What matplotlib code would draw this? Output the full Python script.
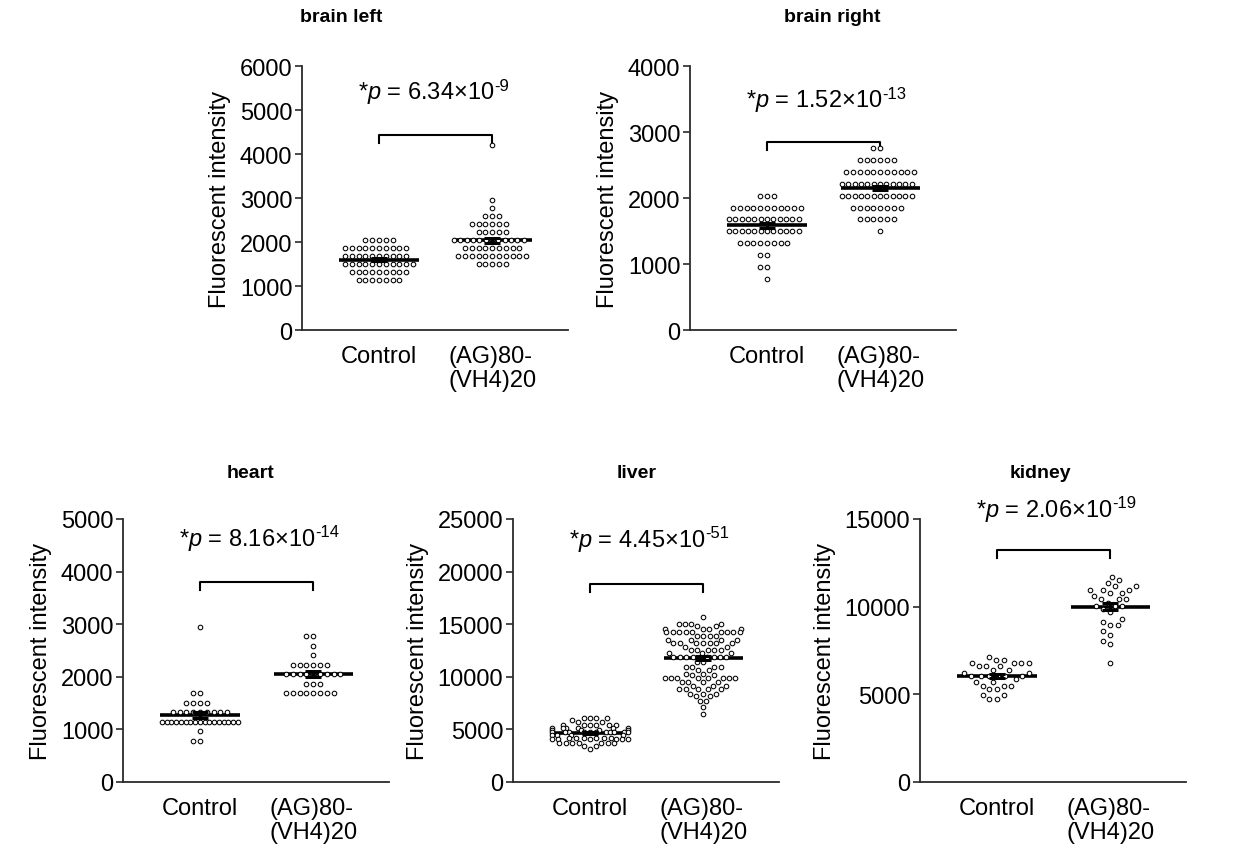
import numpy as np
import matplotlib
matplotlib.use("Agg")
import matplotlib.pyplot as plt
from matplotlib import transforms

plt.rcParams['font.family'] = ['Liberation Sans', 'DejaVu Sans']
plt.rcParams['mathtext.fontset'] = 'custom'
plt.rcParams['mathtext.rm'] = 'Liberation Sans'
plt.rcParams['mathtext.it'] = 'Liberation Sans:italic'
plt.rcParams['mathtext.bf'] = 'Liberation Sans:bold'

# ---------------- data ----------------
groups = ['Control', '(AG)80-\n(VH4)20']
titles = ['brain left', 'brain right', 'heart', 'liver', 'kidney']
ymax = [6000, 4000, 5000, 25000, 15000]
ystep = [1000, 1000, 1000, 5000, 5000]
p_mant = ['6.34', '1.52', '8.16', '4.45', '2.06']
p_exp = ['-9', '-13', '-14', '-51', '-19']

# brain left
bl_ctrl_vals = [2045, 1864, 1683, 1495, 1314, 1133]
bl_ctrl_counts = [5, 10, 10, 11, 9, 7]
bl_ag_vals = [4215, 2950, 2769, 2580, 2400, 2218, 2038, 1864, 1676, 1495]
bl_ag_counts = [1, 1, 1, 3, 6, 5, 12, 9, 11, 5]

# brain right
br_ctrl_vals = [2035, 1855, 1675, 1495, 1315, 1135, 955, 770]
br_ctrl_counts = [3, 11, 12, 12, 8, 2, 2, 1]
br_ag_vals = [2765, 2580, 2400, 2215, 2035, 1855, 1675, 1495]
br_ag_counts = [2, 6, 11, 12, 12, 8, 6, 1]

# heart
he_ctrl_vals = [2950, 1687, 1506, 1325, 1144, 962, 781]
he_ctrl_counts = [1, 2, 4, 9, 17, 1, 2]
he_ag_vals = [2775, 2594, 2412, 2231, 2050, 1869, 1687]
he_ag_counts = [2, 1, 1, 6, 9, 3, 8]

# liver
li_ctrl_vals = [6110, 5880, 5670, 5420, 5110, 4900, 4730, 4500, 4230, 4050, 3700, 3380, 3130]
li_ctrl_counts = [4, 1, 2, 6, 6, 4, 11, 4, 6, 6, 7, 2, 1]
li_ag_vals = [15680, 15050, 14800, 14580, 14260, 13850, 13500, 13170, 12790, 12570,
              12260, 11850, 11380, 10900, 10600, 10280, 10130, 9870, 9500, 9120,
              8810, 8400, 8180, 7680, 7150, 6430]
li_ag_counts = [1, 4, 2, 4, 9, 4, 4, 7, 2, 5, 3, 8, 2, 4, 2, 2, 2, 8, 4, 3, 5, 3, 2, 2, 1, 1]

# kidney
ki_ctrl_vals = [7140, 6970, 6760, 6590, 6400, 6210, 6040, 5850, 5680, 5490, 5300, 4940, 4730]
ki_ctrl_counts = [1, 2, 4, 3, 2, 2, 6, 1, 2, 3, 2, 2, 2]
ki_ag_vals = [11720, 11515, 11360, 11155, 10970, 10800, 10600, 10420, 10230, 10040,
              9890, 9700, 9320, 9150, 8960, 8600, 8410, 8050, 7860, 6760]
ki_ag_counts = [1, 1, 1, 2, 3, 2, 1, 3, 1, 3, 1, 1, 1, 1, 2, 1, 1, 1, 1, 1]

# mean lines and SEM
means = [(1593, 2038), (1585, 2150), (1275, 2050), (4700, 11790), (6040, 10000)]
sems = [(36, 60), (35, 35), (58, 55), (90, 200), (115, 185)]

data = [
    ((bl_ctrl_vals, bl_ctrl_counts), (bl_ag_vals, bl_ag_counts)),
    ((br_ctrl_vals, br_ctrl_counts), (br_ag_vals, br_ag_counts)),
    ((he_ctrl_vals, he_ctrl_counts), (he_ag_vals, he_ag_counts)),
    ((li_ctrl_vals, li_ctrl_counts), (li_ag_vals, li_ag_counts)),
    ((ki_ctrl_vals, ki_ctrl_counts), (ki_ag_vals, ki_ag_counts)),
]

# ---------------- layout ----------------
W, H = 1248, 854
boxes = [(302, 67, 266, 264), (690, 67, 266, 264),
         (123, 520, 266, 263), (513, 520, 266, 263), (920, 520, 266, 263)]
title_pos = [(341, 18), (832, 18), (250, 474), (637, 474), (1040, 474)]
ptext_y = [5400, 3480, 4620, 23000, 15500]
bracket_y = [4432, 2848, 3800, 18820, 13230]
swarm_d = [6.8, 6.8, 6.8, 6.4, 7.6]
XLIM = (0.32, 2.67)
INK = '#2b2b2b'
FS = 17


def swarm(ypix, d):
    order = np.argsort(ypix, kind='stable')
    xs = np.zeros(len(ypix))
    placed = []
    for i in order:
        y = ypix[i]
        neigh = [(px, py) for px, py in placed if abs(py - y) < d]
        cands = [0.0]
        for px, py in neigh:
            dx = np.sqrt(max(d * d - (py - y) ** 2, 0))
            cands += [px + dx, px - dx]
        cands.sort(key=lambda c: (round(abs(c), 6), c))
        for c in cands:
            if all((c - px) ** 2 + (y - py) ** 2 >= d * d - 1e-6 for px, py in neigh):
                xs[i] = c
                break
        placed.append((xs[i], y))
    # compress too-wide rows
    wmax = 38.0
    for v in np.unique(ypix):
        m = ypix == v
        hw = np.abs(xs[m]).max()
        if hw > wmax:
            xs[m] *= wmax / hw
    return xs


fig = plt.figure(figsize=(W / 100, H / 100), dpi=100)
fig.patch.set_facecolor('white')

for k in range(5):
    l, t, w, h = boxes[k]
    ax = fig.add_axes([l / W, 1 - (t + h) / H, w / W, h / H])
    ax.set_xlim(*XLIM)
    ax.set_ylim(0, ymax[k])
    for s in ['top', 'right']:
        ax.spines[s].set_visible(False)
    for s in ['left', 'bottom']:
        ax.spines[s].set_color(INK)
        ax.spines[s].set_linewidth(1.3)
    ax.set_yticks(np.arange(0, ymax[k] + 1, ystep[k]))
    ax.set_xticks([1, 2])
    ax.set_xticklabels(groups, fontsize=FS, multialignment='left', linespacing=1.12)
    ax.tick_params(axis='x', length=0, pad=11)
    ax.tick_params(axis='y', length=5, width=1.2, color=INK, labelsize=FS, pad=2)
    ax.set_ylabel('Fluorescent intensity', fontsize=FS, labelpad=6)
    ax.patch.set_alpha(0)

    px_per_unit = w / (XLIM[1] - XLIM[0])
    d = swarm_d[k]
    for g, (vals, cnts) in enumerate(data[k]):
        y = np.repeat(np.asarray(vals, float), cnts)
        ypix = ax.transData.transform(np.column_stack([np.ones_like(y), y]))[:, 1]
        xo = swarm(ypix, d) / px_per_unit
        xc = g + 1
        m = means[k][g]
        ax.plot([xc - 0.35, xc + 0.35], [m, m], color='black', lw=2.6,
                solid_capstyle='butt', zorder=2, clip_on=False)
        ax.scatter(xc + xo, y, s=3.3 ** 2, facecolor='white', edgecolor='black',
                   linewidths=0.75, zorder=3, clip_on=False)
        ax.errorbar([xc], [m], yerr=[sems[k][g]], fmt='none', ecolor='black',
                    elinewidth=2.2, capsize=6, capthick=2.2, zorder=4, clip_on=False)

    # significance bracket
    by = bracket_y[k]
    tick = 0.03 * ymax[k]
    ax.plot([1, 1, 2, 2], [by - tick, by, by, by - tick], color='black', lw=1.5,
            clip_on=False)
    shift = transforms.offset_copy(ax.transData, fig=fig, x=-7, y=0, units='points')
    base = ax.text(1.5, ptext_y[k], r'*$p$ = %s×10' % p_mant[k], transform=shift,
                   ha='center', va='center', fontsize=FS, clip_on=False)
    ax.annotate(p_exp[k], xy=(1.0, 0.78), xycoords=base, xytext=(0.5, 0),
                textcoords='offset points', ha='left', va='center', fontsize=12,
                annotation_clip=False)

    tx, ty = title_pos[k]
    fig.text(tx / W, 1 - ty / H, titles[k], ha='center', va='center',
             fontsize=14, fontweight='bold')

fig.savefig('out.png', dpi=100, facecolor='white')
